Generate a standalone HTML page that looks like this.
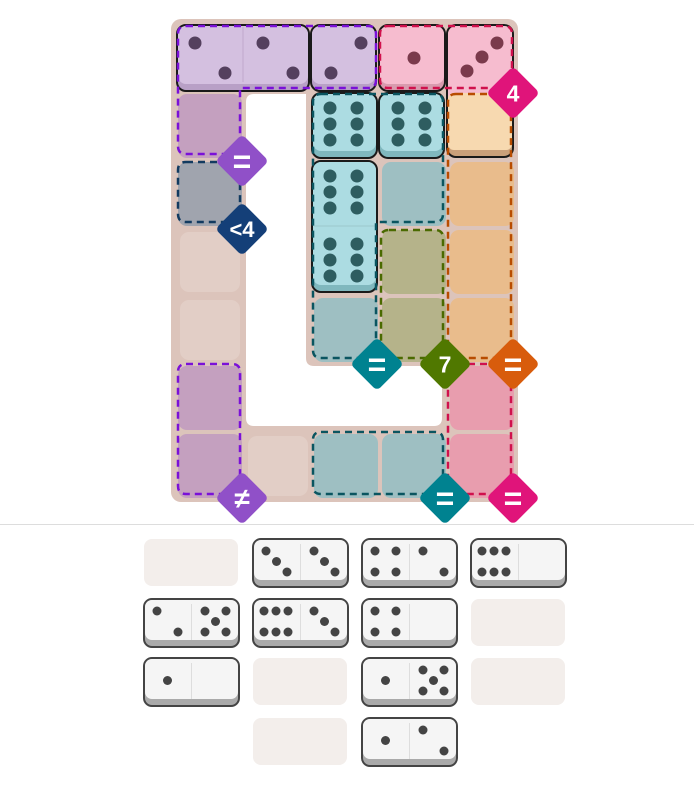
<!DOCTYPE html>
<html><head><meta charset="utf-8"><style>
html,body{margin:0;padding:0;background:#fff;width:694px;height:797px;overflow:hidden;font-family:"Liberation Sans",sans-serif}
</style></head><body>
<svg id="s" width="694" height="797" xmlns="http://www.w3.org/2000/svg" style="position:absolute;left:0;top:0"></svg>
<script>
const S=document.getElementById('s');let h='';
const X=c=>176+68*c, Y=r=>24+68*r;
const tan='#dcc4bb';
h+=`<rect x="171" y="19" width="347" height="483" rx="10" fill="${tan}"/>`;
h+=`<path d="M254 94 H306 V358 Q306 366 314 366 H442 V418 Q442 426 434 426 H254 Q246 426 246 418 V102 Q246 94 254 94Z" fill="#fff"/>`;
function plain(c,r,f){h+=`<rect x="${X(c)+4}" y="${Y(r)+4}" width="60" height="60" rx="9" fill="${f}"/>`;}
[[0,3],[0,4],[1,6]].forEach(a=>plain(a[0],a[1],'#e2cec6'));
function fill(c,r,f){h+=`<rect x="${X(c)+2}" y="${Y(r)+2}" width="64" height="64" rx="9" fill="${f}"/>`;}
fill(0,1,'#c4a0bf');fill(0,5,'#c4a0bf');fill(0,6,'#c4a0bf');
fill(0,2,'#a0a4ae');
fill(3,2,'#9ebfc2');fill(2,4,'#9ebfc2');fill(2,6,'#9ebfc2');fill(3,6,'#9ebfc2');
fill(3,3,'#b5b38a');fill(3,4,'#b5b38a');
fill(4,2,'#e9bc8c');fill(4,3,'#e9bc8c');fill(4,4,'#e9bc8c');
fill(4,5,'#e89dae');fill(4,6,'#e89dae');
function piece(x,y,w,hh,f,sh){h+=`<rect x="${x}" y="${y}" width="${w}" height="${hh}" rx="9" fill="${sh}" stroke="#1a1a1a" stroke-width="2"/><rect x="${x+1}" y="${y+1}" width="${w-2}" height="${hh-8}" rx="8" fill="${f}"/>`;}
function pips(c,r,n,col){const x=X(c),y=Y(r);let p=[];
 const a=19,b=49,m=34;
 if(n==1)p=[[m,m]];
 if(n==2)p=[[b,a],[a,b]];
 if(n==3)p=[[b,a],[m,m-1],[a,b-2]];
 if(n==22)p=[[a,a],[b,b]];
 if(n==6)p=[[18,16],[45,16],[18,32],[45,32],[18,48],[45,48]];
 p.forEach(q=>h+=`<circle cx="${x+q[0]}" cy="${y+q[1]}" r="6.5" fill="${col}"/>`);}
piece(177,25,132,66,'#d4c0e0','#b8a0c6');
h+=`<line x1="243" y1="27" x2="243" y2="82" stroke="#c0a8cc" stroke-width="1"/>`;
piece(311,25,65,66,'#d4c0e0','#b8a0c6');
piece(379,25,66,66,'#f6bccf','#d89aae');
piece(447,25,66,132,'#f6bccf','#caa07a');
h+=`<rect x="448" y="93" width="64" height="57" rx="6" fill="#f7d9b0"/>`;
piece(312,93,65,65,'#acdce2','#80b8be');
piece(379,93,65,65,'#acdce2','#80b8be');
piece(312,161,65,131,'#acdce2','#80b8be');
h+=`<line x1="314" y1="226" x2="375" y2="226" stroke="#9cc8cc" stroke-width="1"/>`;
pips(0,0,22,'#54405e');pips(1,0,22,'#54405e');pips(2,0,2,'#54405e');
pips(3,0,1,'#7a3a4c');pips(4,0,3,'#7a3a4c');
pips(2,1,6,'#2e5d60');pips(3,1,6,'#2e5d60');pips(2,2,6,'#2e5d60');pips(2,3,6,'#2e5d60');
function dash(d,col){h+=`<path d="${d}" fill="none" stroke="${col}" stroke-width="2.5" stroke-dasharray="7 5"/>`;}
function rr(x1,y1,x2,y2){const r=8;return `M${x1+r} ${y1}H${x2-r}Q${x2} ${y1} ${x2} ${y1+r}V${y2-r}Q${x2} ${y2} ${x2-r} ${y2}H${x1+r}Q${x1} ${y2} ${x1} ${y2-r}V${y1+r}Q${x1} ${y1} ${x1+r} ${y1}Z`;}
dash(`M186 26H368Q376 26 376 34V80Q376 88 368 88H240V146Q240 154 232 154H186Q178 154 178 146V34Q178 26 186 26Z`,'#7a10d8');
dash(rr(380,26,512,88),'#d0104c');
dash(rr(178,162,240,222),'#123a60');
dash(`M321 94H435Q443 94 443 102V214Q443 222 435 222H376V350Q376 358 368 358H321Q313 358 313 350V102Q313 94 321 94Z`,'#0a5560');
dash(rr(381,230,443,358),'#4a6a00');
dash(rr(448,94,511,358),'#b84c00');
dash(rr(178,364,240,494),'#7a10d8');
dash(rr(313,432,443,494),'#0a5560');
dash(rr(448,364,511,494),'#d0104c');
function badge(cx,cy,col,t,fs){h+=`<rect x="${cx-19}" y="${cy-19}" width="38" height="38" rx="5" fill="${col}" transform="rotate(45 ${cx} ${cy})"/><text x="${cx}" y="${cy+fs*0.36}" text-anchor="middle" font-family="Liberation Sans,DejaVu Sans,sans-serif" font-weight="bold" font-size="${fs}" fill="#fff">${t}</text>`;}
badge(242,161,'#9050c8','=',32);
badge(242,229,'#143f78','&lt;4',22);
badge(513,93,'#e0147a','4',23);
badge(377,364,'#008290','=',32);
badge(445,364,'#507800','7',23);
badge(513,364,'#d85c0c','=',32);
badge(242,498,'#9050c8','≠',28);
badge(445,498,'#008290','=',32);
badge(513,498,'#e0147a','=',32);
h+=`<line x1="0" y1="524.5" x2="694" y2="524.5" stroke="#ddd" stroke-width="1"/>`;
const TX=[143,252,361,470],TY=[538,598,657,717];
function slot(i,j){h+=`<rect x="${TX[i]+1}" y="${TY[j]+1}" width="94" height="47" rx="8" fill="#f3eeeb"/>`;}
function half(x,y,n){let p=[];const a=13,b=34,m=23.5;
 if(n==1)p=[[m,m]];if(n==2)p=[[a,a],[b,b]];if(n==3)p=[[a,a],[m,m],[b,b]];
 if(n==4)p=[[a,a],[b,a],[a,b],[b,b]];if(n==5)p=[[a,a],[b,a],[m,m],[a,b],[b,b]];
 if(n==6)p=[[11,a],[23,a],[35,a],[11,b],[23,b],[35,b]];
 p.forEach(q=>h+=`<circle cx="${x+q[0]}" cy="${y+q[1]}" r="4.5" fill="#444"/>`);}
function dom(i,j,l,r){const x=TX[i],y=TY[j];h+=`<rect x="${x+1}" y="${y+1}" width="95" height="48" rx="8" fill="#aaa" stroke="#444" stroke-width="2"/><rect x="${x+2}" y="${y+2}" width="93" height="40" rx="7" fill="#f5f5f5"/><line x1="${x+48.5}" y1="${y+6}" x2="${x+48.5}" y2="${y+42}" stroke="#ddd" stroke-width="1"/>`;half(x+1,y,l);half(x+49,y,r);}
slot(0,0);dom(1,0,3,3);dom(2,0,4,2);dom(3,0,6,0);
dom(0,1,2,5);dom(1,1,6,3);dom(2,1,4,0);slot(3,1);
dom(0,2,1,0);slot(1,2);dom(2,2,1,5);slot(3,2);
slot(1,3);dom(2,3,1,2);
S.innerHTML=h;
</script>
</body></html>
